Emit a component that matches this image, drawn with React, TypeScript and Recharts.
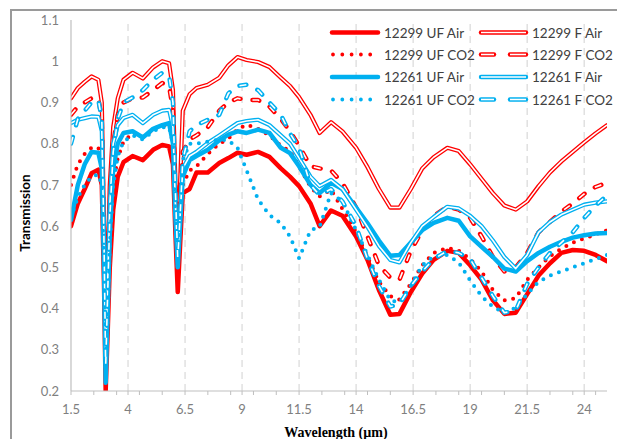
import React from 'react'
import { LineChart, Line, XAxis, YAxis, ReferenceLine } from 'recharts'

const RED = '#FF0000'
const BLUE = '#00B0F0'

const wavelength = [
  1.5, 1.8, 2.1, 2.4, 2.7, 2.85, 2.95, 3.02, 3.1, 3.2,
  3.35, 3.55, 3.8, 4.2, 4.65, 5.1, 5.5, 5.8, 5.97, 6.08,
  6.18, 6.28, 6.4, 6.7, 7.0, 7.5, 8.0, 8.4, 8.8, 9.2,
  9.7, 10.2, 10.7, 11.1, 11.5, 12.0, 12.4, 12.9, 13.4, 14.0,
  14.5, 15.0, 15.5, 15.9, 16.4, 16.9, 17.4, 18.0, 18.5, 19.0,
  19.5, 20.0, 20.5, 21.0, 21.5, 22.0, 22.5, 23.0, 23.5, 24.0,
  24.5, 25.0,
]

const uf12299Air = [
  0.6, 0.655, 0.69, 0.728, 0.737, 0.7, 0.45, 0.2, 0.33, 0.5,
  0.64, 0.72, 0.755, 0.77, 0.76, 0.785, 0.797, 0.793, 0.75, 0.58,
  0.44, 0.55, 0.68, 0.69, 0.73, 0.73, 0.753, 0.765, 0.778, 0.773,
  0.78, 0.768, 0.74, 0.72, 0.697, 0.655, 0.6, 0.638, 0.625, 0.575,
  0.518, 0.445, 0.385, 0.387, 0.44, 0.485, 0.518, 0.54, 0.535, 0.505,
  0.47, 0.42, 0.387, 0.39, 0.435, 0.48, 0.51, 0.535, 0.542, 0.54,
  0.53, 0.515,
]

const f12299Air = [
  0.91, 0.935, 0.95, 0.963, 0.955, 0.9, 0.6, 0.32, 0.5, 0.7,
  0.84, 0.91, 0.955, 0.972, 0.958, 0.985, 1.0, 0.995, 0.93, 0.7,
  0.55, 0.7, 0.88, 0.92, 0.935, 0.943, 0.96, 0.99, 1.01, 1.003,
  0.998, 0.986, 0.96, 0.94, 0.913, 0.87, 0.826, 0.852, 0.83, 0.79,
  0.743, 0.69, 0.645, 0.645, 0.69, 0.74, 0.767, 0.79, 0.782, 0.75,
  0.715, 0.68, 0.65, 0.64, 0.66, 0.697, 0.73, 0.757, 0.78, 0.803,
  0.825, 0.845,
]

const uf12299Co2 = [
  0.7, 0.75, 0.775, 0.79, 0.79, 0.75, 0.5, 0.25, 0.4, 0.58,
  0.7, 0.765, 0.805, 0.825, 0.815, 0.835, 0.845, 0.845, 0.8, 0.6,
  0.48, 0.58, 0.7, 0.735, 0.745, 0.775, 0.8, 0.812, 0.835, 0.846,
  0.836, 0.82, 0.795, 0.782, 0.745, 0.695, 0.672, 0.688, 0.642, 0.585,
  0.525, 0.465, 0.43, 0.422, 0.46, 0.505, 0.535, 0.547, 0.54, 0.52,
  0.49, 0.445, 0.42, 0.425, 0.47, 0.5, 0.527, 0.545, 0.56, 0.57,
  0.58, 0.59,
]

const f12299Co2 = [
  0.87, 0.89, 0.9, 0.91, 0.91, 0.86, 0.55, 0.28, 0.45, 0.65,
  0.8, 0.87, 0.9, 0.91, 0.912, 0.93, 0.947, 0.94, 0.88, 0.68,
  0.53, 0.65, 0.78, 0.81, 0.82, 0.84, 0.88, 0.9, 0.91, 0.906,
  0.906, 0.89, 0.86, 0.83, 0.795, 0.745, 0.74, 0.735, 0.705, 0.645,
  0.575, 0.505, 0.475, 0.47, 0.54, 0.59, 0.625, 0.647, 0.64, 0.62,
  0.575, 0.525, 0.49, 0.5, 0.535, 0.585, 0.61, 0.635, 0.655, 0.678,
  0.695, 0.705,
]

const uf12261Air = [
  0.615, 0.7, 0.75, 0.78, 0.778, 0.74, 0.5, 0.22, 0.38, 0.58,
  0.74, 0.8, 0.826, 0.83, 0.815, 0.836, 0.845, 0.85, 0.8, 0.62,
  0.5, 0.6, 0.72, 0.76, 0.77, 0.785, 0.808, 0.822, 0.83, 0.826,
  0.834, 0.826, 0.79, 0.777, 0.745, 0.7, 0.68, 0.705, 0.69, 0.645,
  0.607, 0.565, 0.528, 0.53, 0.56, 0.59, 0.608, 0.62, 0.613, 0.575,
  0.55, 0.525, 0.497, 0.49, 0.515, 0.535, 0.55, 0.562, 0.572, 0.578,
  0.582, 0.583,
]

const f12261Air = [
  0.85, 0.858, 0.862, 0.866, 0.865, 0.83, 0.55, 0.28, 0.45, 0.65,
  0.8, 0.845, 0.862, 0.87, 0.85, 0.87, 0.88, 0.882, 0.84, 0.65,
  0.53, 0.62, 0.74, 0.77, 0.78, 0.802, 0.82, 0.835, 0.85, 0.855,
  0.858, 0.845, 0.82, 0.8, 0.765, 0.72, 0.697, 0.712, 0.69, 0.64,
  0.598, 0.552, 0.518, 0.512, 0.56, 0.6, 0.622, 0.647, 0.643, 0.625,
  0.6, 0.565, 0.525, 0.497, 0.53, 0.585, 0.61, 0.628, 0.64, 0.652,
  0.657, 0.66,
]

const uf12261Co2 = [
  0.62, 0.67, 0.7, 0.72, 0.725, 0.7, 0.48, 0.24, 0.36, 0.55,
  0.7, 0.77, 0.805, 0.82, 0.81, 0.83, 0.84, 0.84, 0.8, 0.62,
  0.5, 0.62, 0.76, 0.8, 0.8, 0.805, 0.81, 0.808, 0.79, 0.735,
  0.665, 0.627, 0.607, 0.575, 0.522, 0.59, 0.598, 0.68, 0.66, 0.59,
  0.53, 0.47, 0.42, 0.415, 0.455, 0.505, 0.527, 0.53, 0.512, 0.468,
  0.43, 0.404, 0.39, 0.402, 0.435, 0.465, 0.48, 0.49, 0.5, 0.51,
  0.52, 0.53,
]

const f12261Co2 = [
  0.8, 0.86, 0.88, 0.9, 0.905, 0.86, 0.55, 0.26, 0.42, 0.62,
  0.78, 0.86, 0.9, 0.912, 0.93, 0.955, 0.972, 0.965, 0.9, 0.68,
  0.52, 0.62, 0.76, 0.83, 0.845, 0.858, 0.87, 0.922, 0.94, 0.943,
  0.93, 0.9, 0.87, 0.825, 0.79, 0.7, 0.675, 0.69, 0.66, 0.6,
  0.52, 0.455, 0.405, 0.41, 0.455, 0.49, 0.52, 0.54, 0.535, 0.52,
  0.475, 0.43, 0.39, 0.395, 0.46, 0.5, 0.535, 0.56, 0.585, 0.62,
  0.65, 0.675,
]

const majorTicks = [1.5, 4, 6.5, 9, 11.5, 14, 16.5, 19, 21.5, 24]
const minorTicks = [
  1.5, 2.5, 3.5, 4.5, 5.5, 6.5, 7.5, 8.5, 9.5, 10.5, 11.5, 12.5,
  13.5, 14.5, 15.5, 16.5, 17.5, 18.5, 19.5, 20.5, 21.5, 22.5, 23.5, 24.5,
]
const yTicks = [0.2, 0.3, 0.4, 0.5, 0.6, 0.7, 0.8, 0.9, 1.0, 1.1]

type LineStyle = 'solid' | 'dotted' | 'double' | 'dashed'

interface Series {
  key: string
  name: string
  color: string
  style: LineStyle
  values: number[]
}

// legend order (row by row, two columns)
const series: Series[] = [
  { key: 'uf99air', name: '12299 UF Air', color: RED, style: 'solid', values: uf12299Air },
  { key: 'f99air', name: '12299 F Air', color: RED, style: 'double', values: f12299Air },
  { key: 'uf99co2', name: '12299 UF CO2', color: RED, style: 'dotted', values: uf12299Co2 },
  { key: 'f99co2', name: '12299 F CO2', color: RED, style: 'dashed', values: f12299Co2 },
  { key: 'uf61air', name: '12261 UF Air', color: BLUE, style: 'solid', values: uf12261Air },
  { key: 'f61air', name: '12261 F Air', color: BLUE, style: 'double', values: f12261Air },
  { key: 'uf61co2', name: '12261 UF CO2', color: BLUE, style: 'dotted', values: uf12261Co2 },
  { key: 'f61co2', name: '12261 F CO2', color: BLUE, style: 'dashed', values: f12261Co2 },
]

const data = wavelength.map((x, i) => {
  const row: Record<string, number> = { x }
  series.forEach((s) => {
    row[s.key] = s.values[i]
  })
  return row
})

const allTicks = Array.from(new Set([...minorTicks, ...majorTicks])).sort((a, b) => a - b)

const FONT = 'Lato, "Open Sans", sans-serif'
const GREY_TEXT = '#7F7F7F'
const AXIS = '#BFBFBF'

function seriesLines(s: Series) {
  const common = {
    dataKey: s.key,
    type: 'linear' as const,
    dot: false,
    activeDot: false,
    isAnimationActive: false,
    strokeLinejoin: 'round' as const,
  }
  if (s.style === 'solid') {
    return [<Line key={s.key} {...common} stroke={s.color} strokeWidth={4.5} strokeLinecap="round" />]
  }
  if (s.style === 'dotted') {
    return [
      <Line key={s.key} {...common} stroke={s.color} strokeWidth={4} strokeDasharray="0 8.5" strokeLinecap="round" />,
    ]
  }
  if (s.style === 'double') {
    return [
      <Line key={s.key} {...common} stroke={s.color} strokeWidth={4.2} strokeLinecap="round" />,
      <Line key={s.key + '-in'} {...common} stroke="#fff" strokeWidth={1.6} />,
    ]
  }
  return [
    <Line key={s.key} {...common} stroke={s.color} strokeWidth={4.4} strokeDasharray="7 12" strokeLinecap="round" />,
    <Line key={s.key + '-in'} {...common} stroke="#fff" strokeWidth={1.6} strokeDasharray="7 12" strokeLinecap="butt" />,
  ]
}

function XTick(props: any) {
  const { x, y, payload } = props
  if (!majorTicks.includes(payload.value)) return <g />
  return (
    <text x={x} y={y} dy="0.71em" textAnchor="middle" fill={GREY_TEXT} fontSize={13} fontFamily={FONT}>
      {payload.value}
    </text>
  )
}

function LegendSample({ s, x1, x2, y }: { s: Series; x1: number; x2: number; y: number }) {
  if (s.style === 'solid') {
    return <line x1={x1} x2={x2} y1={y} y2={y} stroke={s.color} strokeWidth={4.5} strokeLinecap="round" />
  }
  if (s.style === 'dotted') {
    return (
      <line x1={x1 + 1} x2={x2} y1={y} y2={y} stroke={s.color} strokeWidth={3.8} strokeDasharray="0 9.3" strokeLinecap="round" />
    )
  }
  const segs = s.style === 'double' ? [[x1, x2]] : [[x1, x1 + 13], [x1 + 29, x2]]
  return (
    <g>
      {segs.map(([a, b], i) => (
        <g key={i}>
          <line x1={a} x2={b} y1={y} y2={y} stroke={s.color} strokeWidth={4.4} strokeLinecap="round" />
          <line x1={a} x2={b} y1={y} y2={y} stroke="#fff" strokeWidth={1.6} />
        </g>
      ))}
    </g>
  )
}

function Overlay() {
  const rows = [32.5, 54.5, 77, 99.5]
  const cols = [
    { x1: 332, x2: 378, tx: 384 },
    { x1: 481, x2: 526, tx: 532 },
  ]
  return (
    <svg width={617} height={439} style={{ position: 'absolute', left: 0, top: 0, pointerEvents: 'none' }}>
      <rect x={0} y={0} width={617} height={439} fill="none" />
      {series.map((s, i) => {
        const c = cols[i % 2]
        const y = rows[Math.floor(i / 2)]
        return (
          <g key={s.key}>
            <LegendSample s={s} x1={c.x1} x2={c.x2} y={y} />
            <text x={c.tx} y={y} dominantBaseline="central" fontSize={13.5} fontFamily={FONT} fill="#404040">
              {s.name}
            </text>
          </g>
        )
      })}
      <text
        x={25}
        y={213}
        transform="rotate(-90 25 213)"
        textAnchor="middle"
        dominantBaseline="central"
        fontSize={13.5}
        fontWeight="bold"
        fontFamily={FONT}
        fill="#000"
      >
        Transmission
      </text>
      <text
        x={336}
        y={437}
        textAnchor="middle"
        fontSize={14}
        fontWeight="bold"
        fontFamily='"Liberation Serif", "DejaVu Serif", serif'
        fill="#000"
      >
        Wavelength (µm)
      </text>
    </svg>
  )
}

export default function App() {
  return (
    <div style={{ position: 'fixed', left: 0, top: 0, width: 617, height: 439, overflow: 'hidden', background: '#fff' }}>
      <div
        style={{
          position: 'absolute',
          left: 10,
          top: 9,
          width: 700,
          height: 500,
          borderTop: '2px solid #9A9A9A',
          borderLeft: '2px solid #9A9A9A',
        }}
      />
      <div style={{ position: 'absolute', left: 0, top: 0 }}>
        <LineChart width={617} height={439} data={data} margin={{ top: 20, right: 10, bottom: 0, left: 0 }}>
          <XAxis
            dataKey="x"
            type="number"
            domain={[1.5, 25]}
            ticks={allTicks}
            interval={0}
            allowDataOverflow
            height={48}
            axisLine={{ stroke: AXIS, strokeWidth: 1.2 }}
            tickLine={{ stroke: AXIS }}
            tickSize={4}
            tickMargin={10}
            tick={<XTick />}
          />
          <YAxis
            type="number"
            domain={[0.2, 1.1]}
            ticks={yTicks}
            interval={0}
            allowDataOverflow
            width={71}
            axisLine={{ stroke: AXIS, strokeWidth: 1.2 }}
            tickLine={false}
            tickSize={0}
            tickMargin={12}
            tickFormatter={(v: number) => String(Number(v.toFixed(1)))}
            tick={{ fill: GREY_TEXT, fontSize: 13, fontFamily: FONT }}
          />
          {majorTicks
            .filter((v) => v > 1.5)
            .map((v) => (
              <ReferenceLine key={'g' + v} x={v} stroke="#D9D9D9" strokeWidth={1.2} strokeDasharray="7 5" />
            ))}
          {series.flatMap((s) => seriesLines(s))}
        </LineChart>
      </div>
      <Overlay />
    </div>
  )
}
